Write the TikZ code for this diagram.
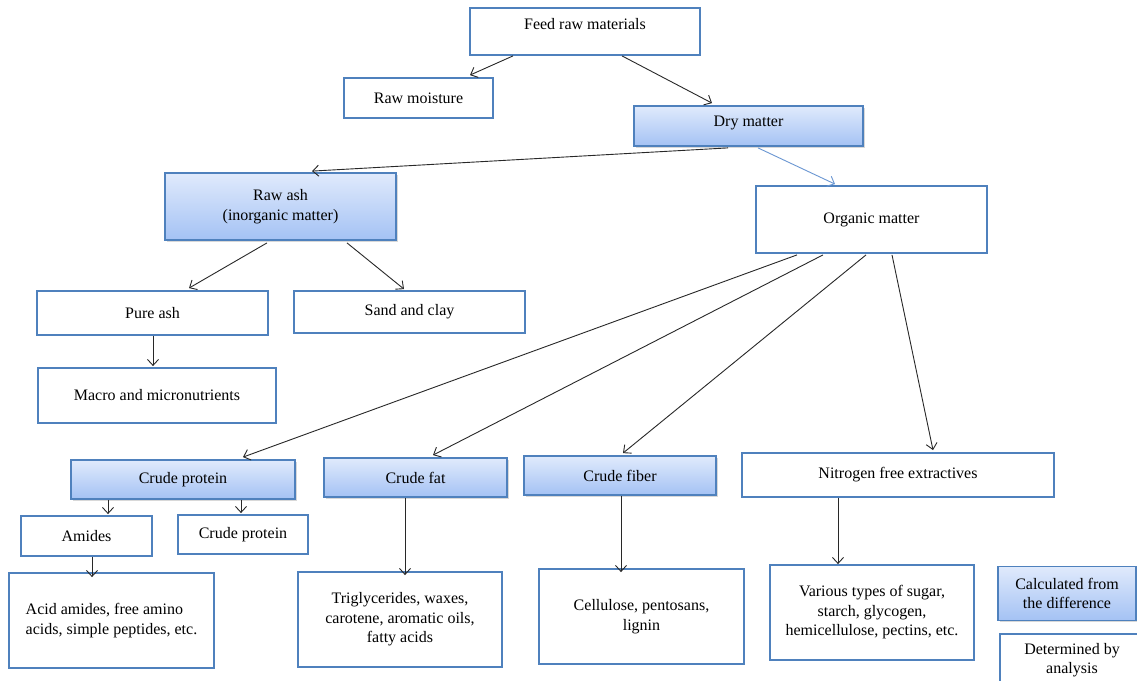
\documentclass[tikz,border=0pt]{standalone}
\usepackage{fontspec}
\setmainfont{Liberation Serif}
\usetikzlibrary{arrows.meta,calc,shadows}
\definecolor{boxblue}{RGB}{79,129,189}
\definecolor{gtop}{RGB}{224,234,252}
\definecolor{gbot}{RGB}{164,194,244}
\definecolor{arrowgray}{RGB}{40,40,40}
\definecolor{lineblue}{RGB}{105,150,210}
\begin{document}
\begin{tikzpicture}[x=1pt,y=-1pt,
  box/.style={draw=boxblue, line width=1.8pt, fill=white, inner sep=2pt,
    font=\fontsize{16}{19.5}\selectfont, align=center},
  gbox/.style={box, top color=gtop, bottom color=gbot,
    drop shadow={shadow xshift=1.5pt, shadow yshift=-1.5pt, opacity=0.3}},
  arr/.style={draw=arrowgray, line width=0.9pt, -{Straight Barb[length=6pt,width=11pt]}},
  barr/.style={arr, draw=lineblue},
]
\useasboundingbox (0,0) rectangle (1137,680);
\fill[white] (0,0) rectangle (1137,680);
\clip (0,0) rectangle (1137,680);

\node[box, minimum width=230, minimum height=47, text depth=16pt] (feed) at (585,31.5) {Feed raw materials};
\node[box, minimum width=149, minimum height=40] (moist) at (418.5,98) {Raw moisture};
\node[gbox, minimum width=229, minimum height=40, text depth=10pt] (dry) at (748.5,126) {Dry matter};
\node[gbox, minimum width=231, minimum height=67] (ash) at (280.5,206.5) {Raw ash\\(inorganic matter)};
\node[box, minimum width=231, minimum height=67] (org) at (871.5,219.5) {Organic matter};
\node[box, minimum width=231, minimum height=44] (pure) at (152.5,313) {Pure ash};
\node[box, minimum width=231, minimum height=42] (sand) at (409.5,312) {Sand and clay};
\node[box, minimum width=238, minimum height=55] (macro) at (157,395.5) {Macro and micronutrients};

\node[gbox, minimum width=224, minimum height=39] (cp) at (183,479.5) {Crude protein};
\node[gbox, minimum width=183, minimum height=39] (fat) at (415.5,477.5) {Crude fat};
\node[gbox, minimum width=192, minimum height=39] (fiber) at (620,475.5) {Crude fiber};
\node[box, minimum width=312, minimum height=44] (nfe) at (898,475) {Nitrogen free extractives};

\node[box, minimum width=131, minimum height=40] (amides) at (86.5,536) {Amides};
\node[box, minimum width=130, minimum height=39] (cp2) at (243,534.5) {Crude protein};

\node[box, minimum width=205, minimum height=95, align=left] (acid) at (111.5,620.5) {Acid amides, free amino\\acids, simple peptides, etc.};
\node[box, minimum width=204, minimum height=95] (tri) at (400,619.5) {Triglycerides, waxes,\\carotene, aromatic oils,\\fatty acids};
\node[box, minimum width=205, minimum height=95] (cell) at (641.5,616.5) {Cellulose, pentosans,\\lignin};
\node[box, minimum width=204, minimum height=95] (var) at (872,612.5) {Various types of sugar,\\starch, glycogen,\\hemicellulose, pectins, etc.};

\node[gbox, minimum width=138, minimum height=54] (calc) at (1067,593.5) {Calculated from\\the difference};
\node[box, minimum width=144, minimum height=66] (det) at (1072,667) {};
\node[font=\fontsize{16}{19.5}\selectfont, align=center] (dett) at (1072,660) {Determined by\\analysis};

\draw[arr] ($(feed.south)+(-72,0)$) -- ($(moist.north)+(51.5,-2)$);
\draw[arr] ($(feed.south)+(37,0)$) -- ($(dry.north)+(-36.5,-2)$);
\draw[arr] ($(dry.south)+(-20.5,1)$) -- ($(ash.north)+(31.5,-1)$);
\draw[barr] ($(dry.south)+(9.5,1)$) -- ($(org.north)+(-36.5,-1)$);
\draw[arr] ($(ash.south)+(-13.5,2)$) -- ($(pure.north)+(36.5,-2)$);
\draw[arr] ($(ash.south)+(66.5,2)$) -- ($(sand.north)+(-5.5,-1)$);
\draw[arr] ($(pure.south)+(0.5,0)$) -- ($(macro.north)+(-4,-1)$);
\draw[arr] ($(org.south)+(-74.5,1)$) -- ($(cp.north)+(60,-2)$);
\draw[arr] ($(org.south)+(-48.5,1)$) -- ($(fat.north)+(17.5,-2)$);
\draw[arr] ($(org.south)+(-5.5,1)$) -- ($(fiber.north)+(3,-2)$);
\draw[arr] ($(org.south)+(20.5,1)$) -- ($(nfe.north)+(35,-2)$);
\draw[arr] ($(cp.south)+(-75,0)$) -- ($(amides.north)+(21.5,-1)$);
\draw[arr] ($(cp.south)+(58,0)$) -- ($(cp2.north)+(-2,-1)$);
\draw[arr] ($(amides.south)+(5.5,0)$) -- ($(acid.north)+(-19.5,5)$);
\draw[arr] ($(fat.south)+(-10.5,0)$) -- ($(tri.north)+(5,4)$);
\draw[arr] ($(fiber.south)+(1,0)$) -- ($(cell.north)+(-20.5,4)$);
\draw[arr] ($(nfe.south)+(-60,0)$) -- ($(var.north)+(-34,0)$);
\end{tikzpicture}
\end{document}
